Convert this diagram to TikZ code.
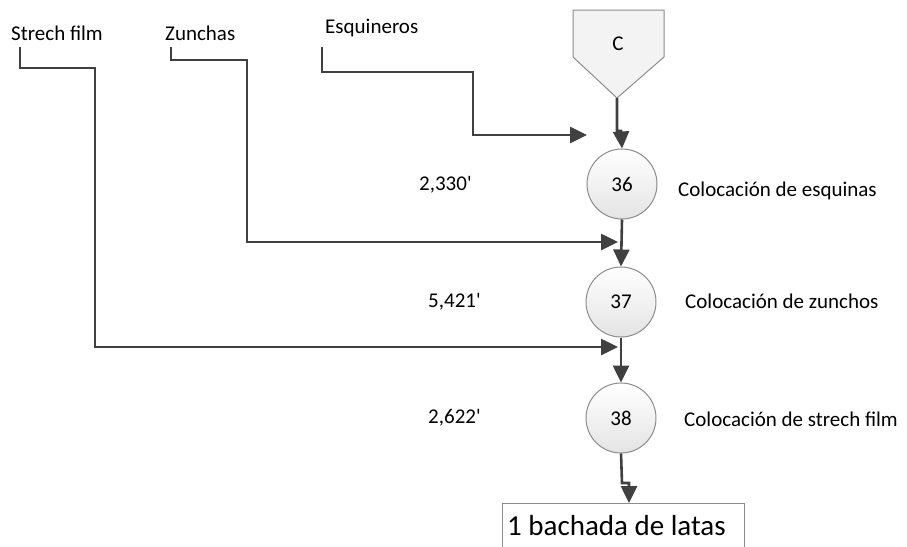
\documentclass[tikz,border=0pt]{standalone}
\usepackage{fontspec}
\setmainfont{Carlito}
\usetikzlibrary{arrows.meta}
\definecolor{flowline}{HTML}{404040}
\definecolor{shapeedge}{HTML}{8C8C8C}
\definecolor{shapefill}{HTML}{F3F3F3}
\definecolor{shapebottom}{HTML}{E4E4E4}
\tikzset{
  flow/.style={draw=flowline, line width=2.6pt, -{Triangle[length=17pt,width=16pt]}},
  opcircle/.style={circle, draw=shapeedge, line width=1pt, minimum size=70pt,
    inner sep=0pt, top color=white, bottom color=shapebottom,
    font=\fontsize{21}{23}\selectfont},
  lbl/.style={font=\fontsize{21}{23}\selectfont, inner sep=0pt},
  bigbox/.style={draw=shapeedge, line width=1pt, fill=white, anchor=north west,
    minimum width=242pt, minimum height=60pt, inner sep=0pt},
}
\begin{document}
\begin{tikzpicture}[x=1pt, y=-1pt]
  \useasboundingbox (0,0) rectangle (907,546);

  % incoming material labels
  \node[lbl, anchor=west] (strech) at (11,33) {Strech film};
  \node[lbl, anchor=west] (zunchas) at (165,33) {Zunchas};
  \node[lbl, anchor=west] (esquineros) at (325,28) {Esquineros};

  % storage symbol C
  \draw[draw=shapeedge, line width=1pt, fill=shapefill]
    (573,10) -- (664,10) -- (664,57) -- (617,98) -- (573,57) -- cycle;
  \node[font=\fontsize{21}{23}\selectfont] (ctext) at (618,44) {C};
  \coordinate (ctip) at (617,98);

  % operations
  \node[opcircle] (op36) at (622,184) {36};
  \node[opcircle] (op37) at (621,302) {37};
  \node[opcircle] (op38) at (621,418) {38};

  % times and descriptions
  \node[lbl, anchor=west] (t36) at (419,185) {2,330\textquotesingle};
  \node[lbl, anchor=west] (t37) at (428,302) {5,421\textquotesingle};
  \node[lbl, anchor=west] (t38) at (428,418) {2,622\textquotesingle};
  \node[lbl, anchor=west] (d36) at (678,191) {Colocación de esquinas};
  \node[lbl, anchor=west] (d37) at (685,301) {Colocación de zunchos};
  \node[lbl, anchor=west] (d38) at (684,419) {Colocación de strech film};

  % result box
  \node[bigbox] (result) at (502,503) {};
  \node[font=\fontsize{29}{32}\selectfont, anchor=base west, inner sep=0pt]
    (resulttext) at (507,535) {1 bachada de latas};

  % connector end points
  \coordinate (sfout) at (20,47);
  \coordinate (zuout) at (171,47);
  \coordinate (esout) at (322,47);
  \coordinate (esin) at (587,135);
  \coordinate (zuin) at (618,242);
  \coordinate (sfin) at (618,347);
  \coordinate (resin) at (629,503);

  % main line
  \draw[flow] (ctip) -- (617,131) -- (621,131) -- (op36.north);
  \draw[flow] (op36.south) -- (op37.north);
  \draw[flow] (op37.south) -- (op38.north);
  \draw[flow] (op38.south) -- (622,483) -- (629,483) -- (resin);

  % material feeds
  \draw[flow] (esout) -- (322,72) -- (473,72) -- (473,135) -- (esin);
  \draw[flow] (zuout) -- (171,60) -- (247,60) -- (247,242) -- (zuin);
  \draw[flow] (sfout) -- (20,68) -- (95,68) -- (95,347) -- (sfin);
\end{tikzpicture}
\end{document}
